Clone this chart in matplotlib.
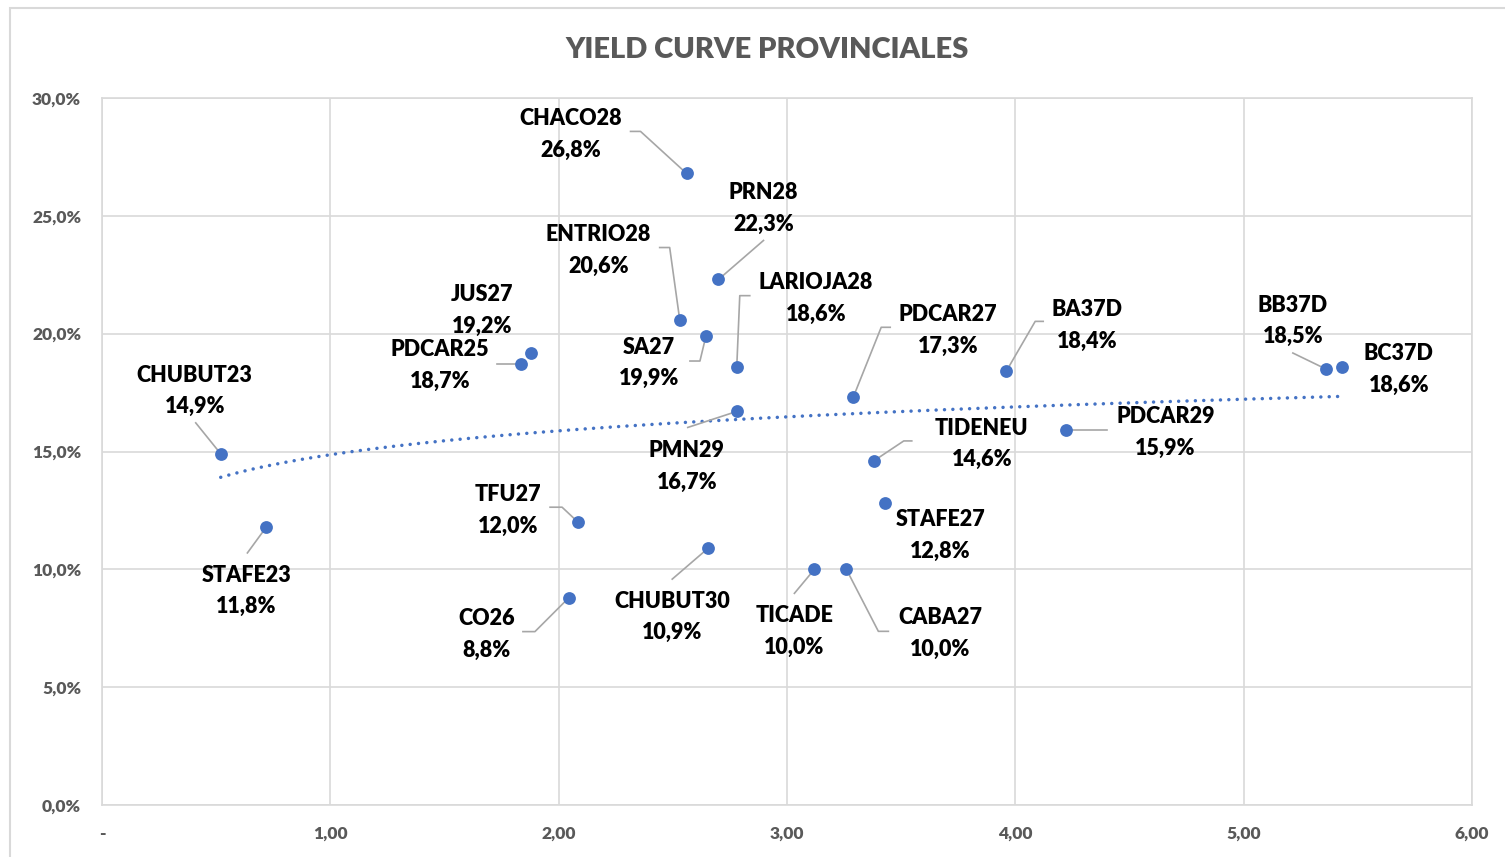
import numpy as np
import matplotlib
matplotlib.use("Agg")
import matplotlib.pyplot as plt
from matplotlib.ticker import FuncFormatter, MultipleLocator
from matplotlib.patches import Rectangle

plt.rcParams['font.family'] = ['Lato', 'DejaVu Sans']

# Bond data: duration (x) and yield in % (y)
bonds = ["CHUBUT23", "STAFE23", "JUS27", "PDCAR25", "TFU27", "CO26", "CHACO28",
         "ENTRIO28", "PRN28", "SA27", "LARIOJA28", "PDCAR27", "PMN29", "CHUBUT30",
         "TICADE", "CABA27", "STAFE27", "TIDENEU", "BA37D", "PDCAR29", "BB37D", "BC37D"]
duration = [0.52, 0.72, 1.88, 1.835, 2.085, 2.045, 2.56,
            2.53, 2.70, 2.645, 2.78, 3.29, 2.78, 2.655,
            3.12, 3.26, 3.43, 3.38, 3.96, 4.22, 5.36, 5.43]
yields = [14.9, 11.8, 19.2, 18.7, 12.0, 8.8, 26.8,
          20.6, 22.3, 19.9, 18.6, 17.3, 16.7, 10.9,
          10.0, 10.0, 12.8, 14.6, 18.4, 15.9, 18.5, 18.6]

# Label placement (text centre relative to point, image pixels, y down)
label_offset = {
    "CHUBUT23": (-26, -65), "STAFE23": (-20, 62), "JUS27": (-49, -44),
    "PDCAR25": (-81, -1), "TFU27": (-70, -14), "CO26": (-82, 35),
    "CHACO28": (-116, -41), "ENTRIO28": (-81, -71), "PRN28": (45, -73),
    "SA27": (-57, 25), "LARIOJA28": (79, -70), "PDCAR27": (95, -69),
    "PMN29": (-50, 53), "CHUBUT30": (-36, 67), "TICADE": (-20, 60),
    "CABA27": (94, 62), "STAFE27": (55, 30), "TIDENEU": (108, -19),
    "BA37D": (81, -48), "PDCAR29": (100, 0), "BB37D": (-33, -50),
    "BC37D": (57, 1),
}
# Leader line vertices (relative to point, image pixels), ending at the point
leaders = {
    "CHUBUT23": [(-25, -31)], "STAFE23": [(-19, 26)], "PDCAR25": [(-24, 0)],
    "TFU27": [(-28, -15), (-16, -15)], "CO26": [(-46, 34), (-34, 34)],
    "CHACO28": [(-56, -42), (-46, -42)], "ENTRIO28": [(-20, -72), (-10, -72)],
    "PRN28": [(45, -39)], "SA27": [(-16, 25), (-6, 25)],
    "LARIOJA28": [(13, -71), (3, -71)], "PDCAR27": [(37, -70), (28, -70)],
    "PMN29": [(-49, 16)], "CHUBUT30": [(-36, 31)], "TICADE": [(-20, 24)],
    "CABA27": [(42, 62), (32, 62)], "TIDENEU": [(38, -20), (30, -20)],
    "BA37D": [(37, -50), (29, -50)], "PDCAR29": [(41, 0)], "BB37D": [(-33, -16)],
}

W, H = 1505, 857
fig = plt.figure(figsize=(W / 100, H / 100), dpi=100)
ax = fig.add_axes([102 / W, (H - 805) / H, 1370 / W, 707 / H])

# chart border (left/top visible only)
fig.patches.append(Rectangle((10 / W, -0.1), 1.2, 1.1 - 8 / H, transform=fig.transFigure,
                             fill=False, edgecolor='#D9D9D9', lw=1.5))

ax.set_xlim(0, 6)
ax.set_ylim(0, 30)
ax.xaxis.set_major_locator(MultipleLocator(1))
ax.yaxis.set_major_locator(MultipleLocator(5))
ax.xaxis.set_major_formatter(FuncFormatter(lambda v, p: "-" if v == 0 else f"{v:.2f}".replace(".", ",")))
ax.yaxis.set_major_formatter(FuncFormatter(lambda v, p: f"{v:.1f}%".replace(".", ",")))
ax.grid(True, color='#D9D9D9', lw=1.2)
ax.set_axisbelow(True)
for s in ax.spines.values():
    s.set_color('#D9D9D9')
    s.set_linewidth(1.2)
ax.tick_params(length=0, labelsize=12.5, labelcolor='#595959', pad=15)
for t in ax.get_xticklabels() + ax.get_yticklabels():
    t.set_fontweight('heavy')

# logarithmic trendline
coef = np.polyfit(np.log(duration), yields, 1)
xs = np.linspace(min(duration), max(duration), 200)
ax.plot(xs, coef[0] * np.log(xs) + coef[1], color='#4472C4', lw=2.5,
        linestyle=(0, (0.01, 2.4)), dash_capstyle='round', zorder=2)

ax.scatter(duration, yields, s=85, color='#4472C4', zorder=3, linewidths=0)

fig.canvas.draw()
inv = ax.transData.inverted()
for name, x, y in zip(bonds, duration, yields):
    dx, dy = label_offset[name]
    ax.annotate(f"{name}\n{y:.1f}%".replace(".", ","), (x, y), xytext=(dx, -dy - 2),
                textcoords='offset pixels', ha='center', va='center', fontsize=15.5,
                fontweight='heavy', color='black', linespacing=1.62, zorder=4)
    if name in leaders:
        px, py = ax.transData.transform((x, y))
        verts = [(px + ox, py - oy) for ox, oy in leaders[name]] + [(px, py)]
        data = inv.transform(verts)
        ax.plot(data[:, 0], data[:, 1], color='#A6A6A6', lw=1.2, zorder=2.5)

fig.text(767 / W, 1 - 50 / H, "YIELD CURVE PROVINCIALES", ha='center', va='center',
         fontsize=21, fontweight='heavy', color='#595959')

fig.savefig("out.png", dpi=100)
